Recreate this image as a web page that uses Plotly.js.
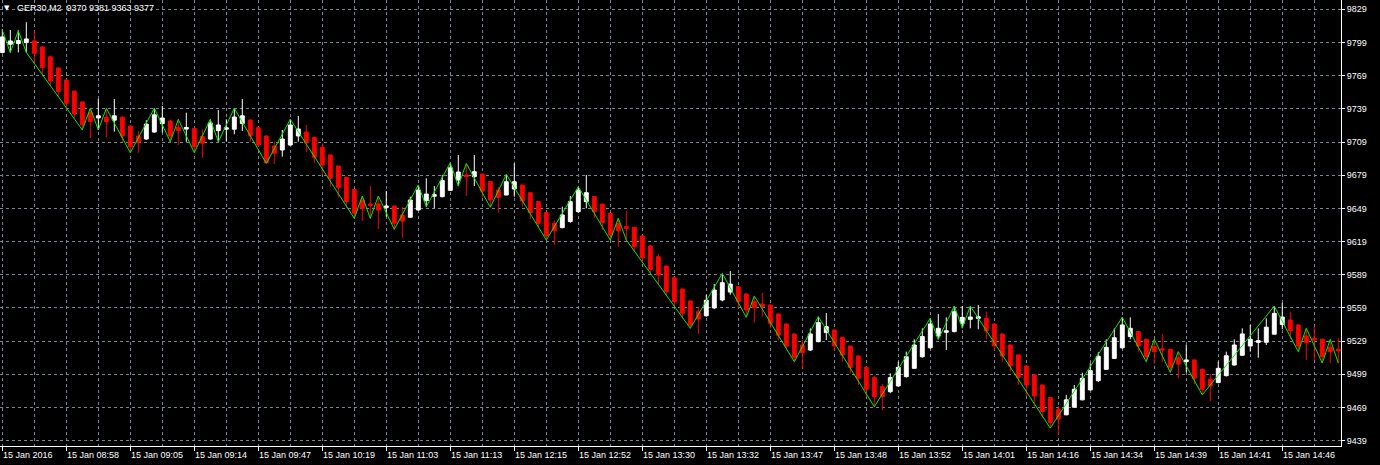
<!DOCTYPE html>
<html>
<head>
<meta charset="utf-8">
<script src="https://cdn.plot.ly/plotly-3.0.1.min.js"></script>
<style>
html,body{margin:0;padding:0;background:#000;}
#chart{width:1380px;height:465px;}
</style>
</head>
<body>
<div id="chart"></div>
<script>
// ---- data (GER30, M2) ----
const openP = [9790,9797.4,9798,9798.9,9800.4,9795,9786,9776,9765,9755,9745.3,9735.6,9730.8,9731.3,9728.8,9731.5,9723.4,9714.4,9711.7,9718,
9725.6,9728,9722.3,9720.7,9721.3,9714,9711.7,9719.3,9720.6,9720.6,9725.8,9728.9,9722,9714.4,9705.4,9701.8,9706.3,9714.5,9718,9713.2,
9704.2,9697.3,9687.3,9677.1,9666.2,9656.6,9653,9653,9649.7,9651.2,9643.1,9641,9647.6,9656,9660,9659.6,9665.3,9674.7,9679.2,9677.7,
9680.1,9673.2,9665.6,9661.1,9666.5,9670.1,9663.2,9655.1,9645.2,9635.5,9631.6,9637.1,9646.1,9655.1,9659.6,9652.9,9644.4,9635.5,9632.5,9631.9,
9624.1,9615,9605.3,9596.9,9586.4,9576.1,9565.3,9555.6,9552,9559,9566.2,9573.4,9578.2,9571.6,9564.7,9562.6,9561.7,9553.5,9544.5,9535.5,
9525.5,9521,9528.5,9536.7,9539.1,9532.4,9524.6,9515.6,9505.3,9496,9487.8,9483.3,9488.5,9496.9,9504.4,9514.9,9523,9533.7,9537,9537.6,
9545.1,9548.7,9549.6,9549.6,9544.5,9535.5,9525.5,9516.5,9506.5,9498.4,9489.4,9478,9466.9,9462.4,9469.3,9475.9,9484.9,9493.3,9503.5,9513.4,
9523,9533.1,9537.6,9530.7,9524,9522,9521.6,9514,9510.4,9512,9503.6,9494.5,9491.5,9497.8,9507.4,9516.2,9524.6,9527.9,9528,9535.3,
9544,9548.1,9543.6,9533.7,9531.6,9530.7,9523.4,9521.6];
const highP = [9811,9810.3,9810,9817.3,9809.4,9795.5,9787,9776.5,9765.5,9755.5,9745.8,9739.5,9748,9739.5,9747.9,9732,9724,9719,9728.8,9739.5,
9741.6,9729,9729.5,9735.5,9722,9720.6,9729.5,9738,9729.5,9739.5,9747.9,9729.5,9722.5,9715,9709.3,9719.9,9729.5,9732.5,9724.4,9713.5,
9707.8,9697.5,9687.5,9677.5,9666.5,9660.2,9669.2,9660.2,9664.7,9651.5,9650.6,9659.6,9670.2,9676.2,9669.2,9679.2,9690.3,9697.3,9689.7,9697.3,
9680.5,9673.5,9668.6,9679.8,9689.7,9670.5,9663.5,9655.5,9645.5,9638,9650.6,9660.2,9668.6,9679.2,9660,9653.2,9644.8,9640.1,9646.7,9632.2,
9624.5,9616,9607.7,9597.2,9586.8,9576.5,9565.6,9560,9571,9580.6,9588.8,9592.4,9579,9572,9569.2,9572.5,9562,9554,9545,9536,
9530,9540.6,9551.1,9554.4,9539.5,9532.8,9525,9516,9505.7,9497.5,9490.3,9499.9,9510.4,9519.5,9530.7,9540.6,9549.6,9553.5,9550.5,9560.7,
9560.7,9560.7,9561.6,9555.6,9545,9536,9526,9517,9507.4,9498.8,9489.8,9478.4,9470.5,9480.4,9489.4,9500.5,9509,9519,9530.7,9540.6,
9550.5,9550.5,9538,9531,9530.7,9535.5,9522,9519.5,9525.5,9512.4,9504,9499.3,9510.4,9519.5,9530.7,9540.6,9543.6,9540.6,9549.6,9560.7,
9563.7,9555.6,9544,9540.6,9542.1,9531,9530.7,9531.6];
const lowP = [9789,9789.8,9790,9789.8,9780,9770.6,9759.7,9750,9738,9730.5,9720,9712.4,9720,9713.2,9718.4,9709.3,9699.3,9699.3,9711,9717.5,
9717.5,9709.3,9706.3,9709.3,9699.4,9694.6,9711,9709.3,9709.3,9716,9719,9709.3,9704.8,9689.7,9689.1,9695.8,9706,9709.3,9700,9689.7,
9679.2,9668.6,9659,9649.1,9640,9637.6,9640,9630.4,9641.5,9630.1,9622.5,9640.5,9647,9650.6,9649.1,9659,9665,9669.2,9660.2,9669.2,
9659,9650,9645.2,9661,9659.6,9650.6,9639.5,9631,9620.4,9615.9,9631,9636,9645,9649.1,9640.1,9629.5,9620.4,9614.4,9620.4,9610,
9600,9590.3,9579.8,9569.8,9560.2,9549.6,9540.6,9535.5,9551,9558,9565,9571,9558.7,9550.5,9545.7,9551,9540.6,9530,9520.4,9510.4,
9504.4,9520,9528,9530,9520.4,9510.4,9499.9,9489.4,9478.8,9469.7,9466.7,9482,9488,9496,9504,9514,9522,9530.7,9521,9537,
9540.6,9540.6,9539.7,9530.7,9521,9510.4,9501.4,9489.4,9479.5,9469.9,9459.4,9450.4,9444.4,9462,9469,9475.5,9484.5,9492,9503,9513,
9522,9530.7,9519.5,9510.4,9508.9,9510.4,9500.8,9495.4,9500.8,9490,9480.4,9474.4,9491,9497,9507,9516,9519.5,9514,9525.5,9535,
9539.7,9530.7,9519.5,9511.9,9511.9,9509.2,9508.9,9509.2];
const closeP = [9804,9800.4,9800.7,9802.2,9789.2,9776.3,9764.2,9754.6,9744,9734.4,9724.5,9727.5,9732.7,9727.4,9732.7,9714.4,9704.7,9708.6,9725.2,9733.6,
9730.7,9714.4,9719.3,9722.2,9704.8,9708,9726.3,9724.4,9721.8,9731.6,9732.7,9714.6,9706.3,9690.3,9698.8,9711.7,9724.4,9720.8,9708.4,9695.2,
9688.2,9676.2,9668,9655.1,9644.6,9649.1,9651.8,9647.6,9651.2,9635.5,9637.6,9656.6,9665.6,9662,9661.4,9674.1,9685.7,9681.9,9677.7,9682.2,
9664.7,9656.6,9659,9673.1,9673.1,9655.7,9645.2,9635.5,9624.3,9628.9,9643.1,9655.1,9665.6,9663.2,9646.1,9636.2,9624.9,9628.9,9631,9614.4,
9604.4,9593.9,9588.8,9573.7,9564.7,9554.2,9543.6,9549,9566,9575.2,9581.8,9580.6,9564.7,9557.1,9559.3,9560.2,9545.1,9534.5,9524.6,9514.4,
9518.6,9535.5,9545.7,9542.1,9524.6,9516.4,9505.3,9495.4,9485.4,9478.8,9478.8,9496,9505.3,9514.9,9525.5,9533.1,9544.5,9540.6,9538.3,9555.6,
9550.5,9550.8,9551,9538.5,9524.6,9515.6,9506.5,9496.3,9489.4,9479.5,9465.4,9455.5,9458.5,9475.9,9485.5,9495.4,9502.3,9515.3,9523.4,9532.1,
9543.6,9540.6,9524.6,9514.9,9519.5,9521,9505.4,9508.3,9512,9495.4,9485.5,9488.5,9504.4,9515.8,9525.5,9535.5,9530.7,9529.4,9541.6,9554.1,
9550.8,9538.5,9524.6,9527.7,9530.1,9514.9,9519.5,9520.4];

// ZigZag turning points: bar index and price
const zzIndex = [0,1,2,3,10,11,12,13,16,19,21,22,24,26,27,29,33,36,44,45,46,47,49,52,53,56,57,58,61,63,68,72,76,77,78,86,90,93,94,99,102,109,116,117,119,120,121,131,140,143,144,146,147,150,159,162,163,165,166,167];
const zzPrice = [9810,9790,9809.4,9790,9720,9739.5,9720,9739.5,9699.4,9739.5,9709.3,9729.5,9699.4,9729.5,9709.3,9739.5,9689.7,9729.5,9640,9660.2,9640,9660.2,9630.1,9670.2,9650.6,9690.3,9669.2,9689.7,9650,9679.8,9620.4,9668.6,9620.4,9640.1,9620.4,9540.6,9590.3,9550.5,9569.8,9510.4,9551.1,9469.7,9549.6,9530.7,9560.7,9541,9560.7,9450.4,9550.5,9510.4,9530.7,9500.8,9519.5,9480.4,9560.7,9519.5,9540.6,9509.2,9530.7,9509.2];

// time labels (one every 8 bars)
const timeLabels = ["15 Jan 2016","15 Jan 08:58","15 Jan 09:05","15 Jan 09:14","15 Jan 09:47","15 Jan 10:19","15 Jan 11:03","15 Jan 11:13","15 Jan 12:15","15 Jan 12:52","15 Jan 13:30","15 Jan 13:32","15 Jan 13:47","15 Jan 13:48","15 Jan 13:52","15 Jan 14:01","15 Jan 14:16","15 Jan 14:34","15 Jan 14:39","15 Jan 14:41","15 Jan 14:46"];
const priceTicks = [9439,9469,9499,9529,9559,9589,9619,9649,9679,9709,9739,9769,9799,9829];
const chartTitle = "GER30,M2  9370 9381 9363 9377";

// ---- build ----
const barIdx = openP.map((_, i) => i);
const labelStep = 8;
const labelIdx = timeLabels.map((_, i) => i * labelStep);

const FONT = "Liberation Sans, Arial, sans-serif";
const GRID = "#778899";

const candles = {
  type: "candlestick",
  x: barIdx, open: openP, high: highP, low: lowP, close: closeP,
  increasing: {line: {color: "#ffffff", width: 1}, fillcolor: "#ffffff"},
  decreasing: {line: {color: "#ff0000", width: 1}, fillcolor: "#ff0000"},
  whiskerwidth: 0,
  hoverinfo: "skip",
  showlegend: false
};
const zigzag = {
  type: "scatter", mode: "lines",
  x: zzIndex, y: zzPrice,
  line: {color: "#00ee00", width: 1},
  hoverinfo: "skip", showlegend: false
};

const annotations = timeLabels.map((t, i) => ({
  text: t, x: labelIdx[i], xref: "x", y: 0, yref: "paper",
  xanchor: "left", yanchor: "top", yshift: -2, xshift: -1,
  showarrow: false, font: {family: FONT, size: 9, color: "#ffffff"}
}));
annotations.push({
  text: chartTitle, x: 0, xref: "paper", y: 1, yref: "paper",
  xanchor: "left", yanchor: "middle", xshift: 15, yshift: -8,
  showarrow: false, font: {family: FONT, size: 9, color: "#ffffff"}
});
annotations.push({
  text: "▼", x: 0, xref: "paper", y: 1, yref: "paper",
  xanchor: "left", yanchor: "middle", xshift: 2, yshift: -8,
  showarrow: false, font: {family: "DejaVu Sans", size: 7, color: "#ffffff"}
});

const layout = {
  width: 1380, height: 465,
  margin: {l: 0, r: 39, t: 0, b: 19, pad: 0},
  paper_bgcolor: "#000000", plot_bgcolor: "#000000",
  font: {family: FONT, size: 9, color: "#ffffff"},
  showlegend: false,
  boxgap: 0.3,
  xaxis: {
    range: [-0.29, 167.34], fixedrange: true,
    rangeslider: {visible: false},
    tickmode: "array", tickvals: labelIdx, showticklabels: false,
    ticks: "outside", ticklen: 4, tickcolor: "#ffffff", tickwidth: 1,
    showgrid: true, gridcolor: GRID, gridwidth: 1, griddash: "3px,3px",
    minor: {tickmode: "linear", tick0: 0, dtick: 4, showgrid: true, gridcolor: GRID, gridwidth: 1, griddash: "3px,3px", ticks: ""},
    showline: true, linecolor: "#ffffff", linewidth: 1, mirror: true,
    zeroline: false, automargin: false
  },
  yaxis: {
    side: "right", range: [9434.2, 9837.4], fixedrange: true,
    tickmode: "array", tickvals: priceTicks, ticktext: priceTicks.map(String),
    ticks: "outside", ticklen: 3, tickcolor: "#ffffff", tickwidth: 1,
    tickfont: {family: FONT, size: 9, color: "#ffffff"},
    showgrid: true, gridcolor: GRID, gridwidth: 1, griddash: "3px,3px",
    showline: true, linecolor: "#ffffff", linewidth: 1, mirror: true,
    zeroline: false, automargin: false
  },
  annotations: annotations
};

Plotly.newPlot("chart", [candles, zigzag], layout, {staticPlot: true, displayModeBar: false});
</script>
</body>
</html>
